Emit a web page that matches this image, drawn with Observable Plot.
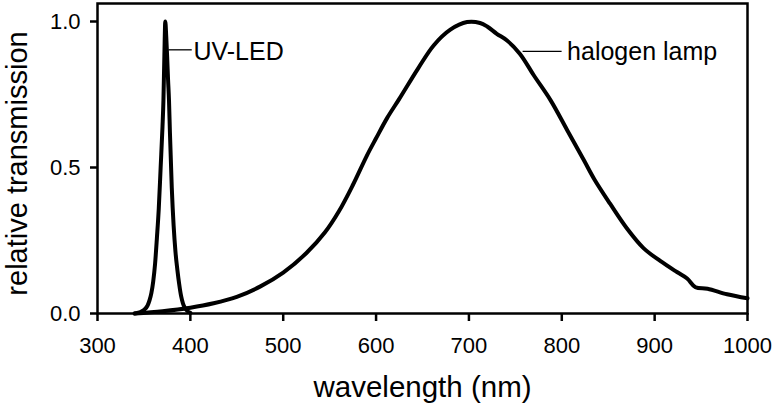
<!DOCTYPE html>
<html>
<head>
<meta charset="utf-8">
<script src="https://cdn.jsdelivr.net/npm/d3@7"></script>
<script src="https://cdn.jsdelivr.net/npm/@observablehq/plot@0.6"></script>
<style>
  html, body { margin: 0; padding: 0; background: #fff; }
  #chart svg { display: block; }
</style>
</head>
<body>
<div id="chart"></div>
<script>
// UV-LED spectrum (wavelength nm, relative transmission)
const uvWavelength = [340, 345, 350, 354, 356, 358, 360, 362, 364, 366, 368, 370, 371, 372, 373, 374, 375, 376, 377, 378, 380, 382, 384, 386, 388, 390, 392, 394, 397, 400];
const uvValue      = [0.0, 0.004, 0.012, 0.028, 0.045, 0.07, 0.11, 0.17, 0.26, 0.36, 0.50, 0.64, 0.73, 0.88, 1.0, 0.95, 0.88, 0.80, 0.73, 0.62, 0.43, 0.30, 0.21, 0.15, 0.10, 0.06, 0.035, 0.02, 0.008, 0.002];

// Halogen lamp spectrum
const halWavelength = [340, 370, 400, 425, 450, 475, 500, 525, 545, 560, 575, 590, 600, 612, 625, 645, 662, 680, 698, 712, 720, 730, 741, 755, 770, 788, 806, 824, 835, 852, 870, 888, 906, 924, 935, 944, 957, 978, 1000];
const halValue      = [0.0, 0.008, 0.02, 0.035, 0.057, 0.092, 0.14, 0.207, 0.278, 0.35, 0.44, 0.54, 0.60, 0.67, 0.735, 0.838, 0.918, 0.972, 0.998, 0.995, 0.982, 0.958, 0.935, 0.889, 0.815, 0.73, 0.627, 0.524, 0.46, 0.376, 0.292, 0.224, 0.18, 0.142, 0.12, 0.09, 0.085, 0.066, 0.052];

// Axis ticks
const xTicks = [300, 400, 500, 600, 700, 800, 900, 1000];
const yTicks = [0, 0.5, 1.0];

// Curve labels with leader lines
const labelNames = ["UV-LED", "halogen lamp"];
const labelX     = [403.3, 805.7];
const labelY     = [0.867, 0.867];
const leaderX1   = [376.4, 757.8];
const leaderX2   = [401.5, 799.8];
const leaderY    = [0.903, 0.898];

const uv = uvWavelength.map((w, i) => ({w, v: uvValue[i]}));
const hal = halWavelength.map((w, i) => ({w, v: halValue[i]}));
const labels = labelNames.map((name, i) => ({name, x: labelX[i], y: labelY[i], x1: leaderX1[i], x2: leaderX2[i], ly: leaderY[i]}));

const font = "'Liberation Sans', Arial, Helvetica, sans-serif";

const chart = Plot.plot({
  width: 774,
  height: 406,
  marginLeft: 97,
  marginRight: 27,
  marginTop: 3,
  marginBottom: 93,
  style: {fontFamily: font, background: "#fff", color: "#000", overflow: "visible"},
  x: {domain: [300, 1000]},
  y: {domain: [0, 310 / 292]},
  marks: [
    Plot.axisX({ticks: xTicks, tickSize: 8, tickPadding: 15.5, fontSize: 22, strokeWidth: 2.5, label: null, tickFormat: d3.format("d")}),
    Plot.axisY({ticks: yTicks, tickSize: 7, tickPadding: 10, fontSize: 22, strokeWidth: 2.5, label: null, tickFormat: d3.format(".1f")}),
    Plot.frame({stroke: "#000", strokeWidth: 2.5}),
    Plot.line(hal, {x: "w", y: "v", stroke: "#000", strokeWidth: 4, curve: "catmull-rom"}),
    Plot.line(uv, {x: "w", y: "v", stroke: "#000", strokeWidth: 4, curve: "monotone-x"}),
    Plot.link(labels, {x1: "x1", x2: "x2", y1: "ly", y2: "ly", stroke: "#000", strokeWidth: 1.3}),
    Plot.text(labels, {x: "x", y: "y", text: "name", textAnchor: "start", lineAnchor: "bottom", fontSize: 25, fill: "#000"}),
    Plot.text(["wavelength (nm)"], {frameAnchor: "bottom", text: d => d, lineAnchor: "bottom", dy: 83, fontSize: 29.5, fill: "#000"}),
    Plot.text(["relative transmission"], {frameAnchor: "left", text: d => d, textAnchor: "middle", rotate: -90, lineAnchor: "bottom", dx: -71, dy: 5, fontSize: 29, fill: "#000"})
  ]
});
document.getElementById("chart").appendChild(chart);
</script>
</body>
</html>
